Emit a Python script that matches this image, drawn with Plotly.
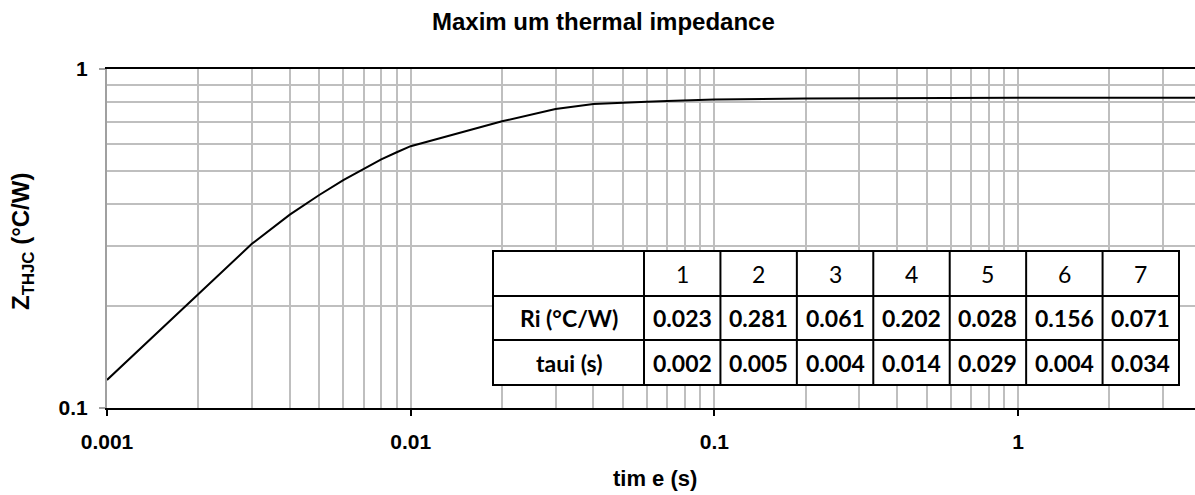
import plotly.graph_objects as go

# ---- data ----
time_s = [0.001, 0.002, 0.003, 0.004, 0.005, 0.006, 0.007, 0.008, 0.009,
          0.01, 0.02, 0.03, 0.04, 0.05, 0.06, 0.07, 0.08, 0.09,
          0.1, 0.2, 0.3, 0.5, 1.0, 2.0, 4.0]
zthjc = [0.121, 0.216, 0.305, 0.372, 0.425, 0.470, 0.508, 0.541, 0.568,
         0.592, 0.701, 0.762, 0.788, 0.797, 0.801, 0.805, 0.809, 0.811,
         0.813, 0.818, 0.820, 0.821, 0.822, 0.822, 0.822]

table_cols = ["1", "2", "3", "4", "5", "6", "7"]
ri_values = ["0.023", "0.281", "0.061", "0.202", "0.028", "0.156", "0.071"]
taui_values = ["0.002", "0.005", "0.004", "0.014", "0.029", "0.004", "0.034"]
row_labels = ["Ri (°C/W)", "taui (s)"]

x_major = [0.001, 0.01, 0.1, 1]
x_major_text = ["0.001", "0.01", "0.1", "1"]
y_major = [0.1, 1]
y_major_text = ["0.1", "1"]
x_minor = [m * d for d in (0.001, 0.01, 0.1, 1) for m in range(2, 10)]
y_minor = [m * 0.1 for m in range(2, 10)]

# ---- layout geometry (pixels) ----
W, H = 1195, 495
L, R, T, B = 107, 1195, 69, 408


def px(x):
    return (x - L) / (R - L)


def py(y):
    return (B - y) / (B - T)


GRID = "#bfbfbf"
SANS = "Liberation Sans, Arial"
TICKFONT = dict(family=SANS, size=21, color="black", weight="bold")

fig = go.Figure()
fig.add_trace(go.Scatter(x=time_s, y=zthjc, mode="lines",
                         line=dict(color="black", width=2), hoverinfo="x+y",
                         showlegend=False))

fig.update_layout(
    width=W, height=H,
    margin=dict(l=L, r=W - R, t=T, b=H - B, autoexpand=False),
    paper_bgcolor="white", plot_bgcolor="white",
    showlegend=False,
)

fig.update_xaxes(
    type="log", range=[-3, 0.583], automargin=False,
    tickmode="array", tickvals=x_major, ticktext=x_major_text,
    tickfont=TICKFONT, ticks="outside", ticklen=6, tickwidth=2, tickcolor="black",
    ticklabelstandoff=8,
    showgrid=True, gridcolor=GRID, gridwidth=2,
    minor=dict(tickmode="array", tickvals=x_minor, showgrid=True,
               gridcolor=GRID, gridwidth=2, ticks=""),
    showline=True, linecolor="black", linewidth=2, mirror=True,
    zeroline=False,
)
fig.update_yaxes(
    type="log", range=[-1, 0], automargin=False,
    tickmode="array", tickvals=y_major, ticktext=y_major_text,
    tickfont=TICKFONT, ticks="outside", ticklen=6, tickwidth=2, tickcolor="#a0a0a0",
    ticklabelstandoff=7,
    showgrid=True, gridcolor=GRID, gridwidth=2,
    minor=dict(tickmode="array", tickvals=y_minor, showgrid=True,
               gridcolor=GRID, gridwidth=2, ticks=""),
    showline=True, linecolor="#a0a0a0", linewidth=2,
    zeroline=False,
)

# ---- titles ----
annotations = [
    dict(text="<b>Maxim um thermal impedance</b>", x=px(603), y=py(21),
         xref="paper", yref="paper", xanchor="center", yanchor="middle",
         showarrow=False, font=dict(family=SANS, size=24, color="black")),
    dict(text="<b>tim e (s)</b>", x=px(655), y=py(478),
         xref="paper", yref="paper", xanchor="center", yanchor="middle",
         showarrow=False, font=dict(family=SANS, size=22, color="black")),
    dict(text="<b>Z<sub>THJC</sub> (°C/W)</b>", x=px(22), y=py(242), textangle=-90,
         xref="paper", yref="paper", xanchor="center", yanchor="middle",
         showarrow=False, font=dict(family=SANS, size=24, color="black")),
]

# ---- parameter table ----
tx0, tx1 = 493, 1179
ty = [251, 296, 340, 385]
c0 = 644
cw = (tx1 - c0) / len(table_cols)
shapes = [dict(type="rect", xref="paper", yref="paper",
               x0=px(tx0), x1=px(tx1), y0=py(ty[-1]), y1=py(ty[0]),
               fillcolor="white", line=dict(color="black", width=2), layer="above")]
for yy in ty[1:-1]:
    shapes.append(dict(type="line", xref="paper", yref="paper",
                       x0=px(tx0), x1=px(tx1), y0=py(yy), y1=py(yy),
                       line=dict(color="black", width=2), layer="above"))
for i in range(len(table_cols)):
    xx = c0 + i * cw
    shapes.append(dict(type="line", xref="paper", yref="paper",
                       x0=px(xx), x1=px(xx), y0=py(ty[-1]), y1=py(ty[0]),
                       line=dict(color="black", width=2), layer="above"))

TF = "Lato, Carlito, Noto Sans"
for i, c in enumerate(table_cols):
    xc = c0 + (i + 0.5) * cw
    annotations.append(dict(text=c, x=px(xc), y=py((ty[0] + ty[1]) / 2),
                            xref="paper", yref="paper", showarrow=False,
                            xanchor="center", yanchor="middle",
                            font=dict(family=TF, size=23, color="black")))
    annotations.append(dict(text="<b>" + ri_values[i] + "</b>", x=px(xc), y=py((ty[1] + ty[2]) / 2),
                            xref="paper", yref="paper", showarrow=False,
                            xanchor="center", yanchor="middle",
                            font=dict(family=TF, size=23, color="black")))
    annotations.append(dict(text="<b>" + taui_values[i] + "</b>", x=px(xc), y=py((ty[2] + ty[3]) / 2),
                            xref="paper", yref="paper", showarrow=False,
                            xanchor="center", yanchor="middle",
                            font=dict(family=TF, size=23, color="black")))
for j, lab in enumerate(row_labels):
    annotations.append(dict(text="<b>" + lab + "</b>", x=px((tx0 + c0) / 2),
                            y=py((ty[j + 1] + ty[j + 2]) / 2),
                            xref="paper", yref="paper", showarrow=False,
                            xanchor="center", yanchor="middle",
                            font=dict(family=TF, size=23, color="black")))

fig.update_layout(shapes=shapes, annotations=annotations)
fig.write_html("out.html", config={"displayModeBar": False},
               post_script="document.body.style.margin='0';document.body.style.overflow='hidden';")
